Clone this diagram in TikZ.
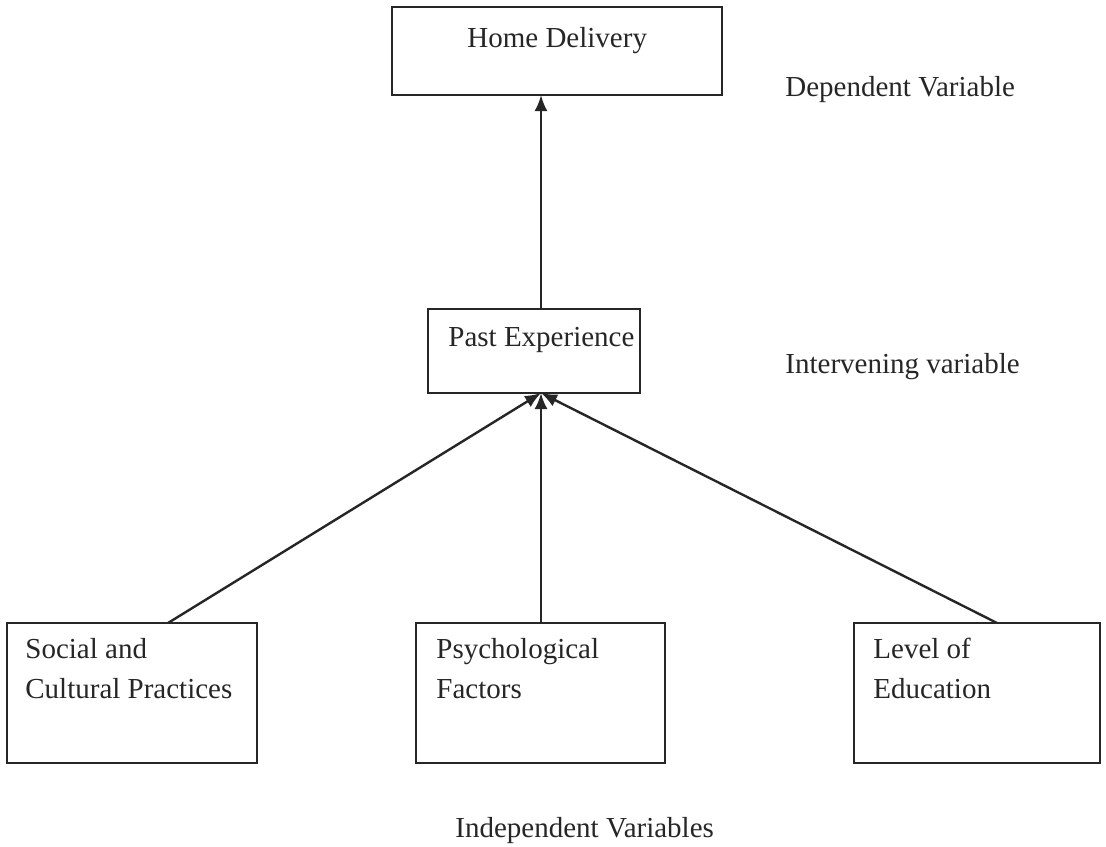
\documentclass[tikz,border=0pt]{standalone}
\usepackage{fontspec}
\setmainfont{Liberation Serif}
\usetikzlibrary{arrows.meta}
\begin{document}
\begin{tikzpicture}[x=0.5pt,y=-0.5pt,
  boxed/.style={draw=black!85, line width=1.2pt},
  txt/.style={anchor=base west, inner sep=0pt, font=\fontsize{14.5}{20}\selectfont, text=black!85, align=left},
  conn/.style={line width=1.2pt, draw=black!85, -{Latex[length=8pt,width=6.5pt]}}
]
\useasboundingbox (0,0) rectangle (1106,846);
% boxes
\draw[boxed] (392,7) rectangle (722,95);
\coordinate (homeS) at (541,95);
\draw[boxed] (428,309) rectangle (640,393);
\coordinate (pastN) at (541,309);
\coordinate (pastS) at (541,393);
\draw[boxed] (7,623) rectangle (257,763);
\coordinate (socN) at (168,623);
\draw[boxed] (416,623) rectangle (665,763);
\coordinate (psyN) at (541,623);
\draw[boxed] (854,623) rectangle (1100,763);
\coordinate (levN) at (997,623);
% texts
\node[txt] (home) at (467,47) {Home Delivery};
\node[txt] (past) at (448,346) {Past Experience};
\node[txt] (soc) at (25,698) {Social and\\Cultural Practices};
\node[txt] (psy) at (436,698) {Psychological\\Factors};
\node[txt] (lev) at (873,698) {Level of\\Education};
\node[txt] (dep) at (785,96) {Dependent Variable};
\node[txt] (int) at (785,373) {Intervening variable};
\node[txt] (ind) at (455,837) {Independent Variables};
% connectors
\draw[conn] (pastN) -- (homeS);
\draw[conn] (socN) -- (pastS);
\draw[conn] (psyN) -- (pastS);
\draw[conn] (levN) -- (pastS);
\end{tikzpicture}
\end{document}
